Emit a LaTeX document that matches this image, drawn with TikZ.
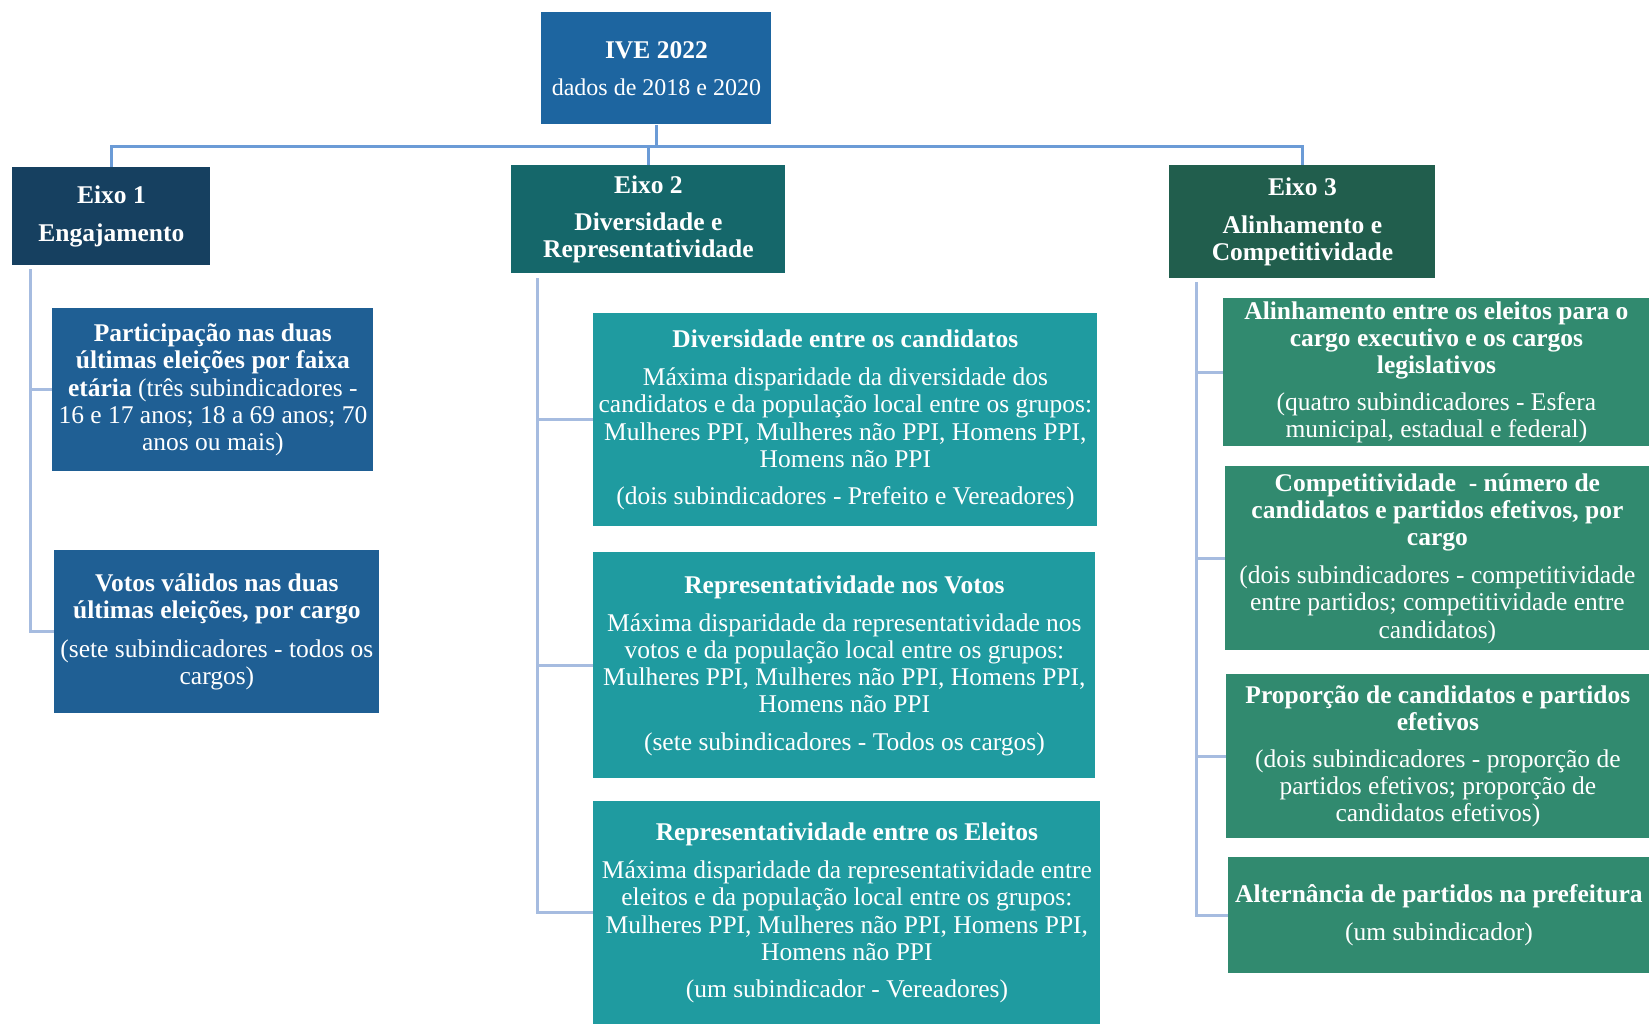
\documentclass[tikz,border=0pt]{standalone}
\usepackage{fontspec}
\setmainfont{Liberation Serif}
\definecolor{cIVE}{RGB}{29,101,160}
\definecolor{cE1}{RGB}{22,64,96}
\definecolor{cE2}{RGB}{21,103,106}
\definecolor{cE3}{RGB}{33,94,77}
\definecolor{cP}{RGB}{31,95,148}
\definecolor{cD}{RGB}{31,155,160}
\definecolor{cA}{RGB}{49,138,111}
\definecolor{cBus}{RGB}{107,155,214}
\definecolor{cBr}{RGB}{166,188,224}
\newcommand{\mainfs}{\fontsize{12.75}{13.6}\selectfont}
\tikzset{
  box/.style={anchor=north west, inner sep=0pt, align=center, text=white, font=\mainfs},
  bus/.style={draw=cBus, line width=1.5pt},
  branch/.style={draw=cBr, line width=1.5pt},
}
\begin{document}
\begin{tikzpicture}[x=0.5pt,y=-0.5pt]
\useasboundingbox[fill=white] (0,0) rectangle (1649,1024);

% top
\node[box, fill=cIVE, minimum width=115pt, minimum height=56pt] (ive) at (541,12)
  {\textbf{IVE 2022}\\[5pt]{\fontsize{12}{13}\selectfont dados de 2018 e 2020}};

% axes
\node[box, fill=cE1, minimum width=99pt, minimum height=49pt] (e1) at (12,167)
  {\textbf{Eixo 1}\\[5pt]\textbf{Engajamento}};
\node[box, fill=cE2, minimum width=137pt, minimum height=54pt] (e2) at (511,165)
  {\textbf{Eixo 2}\\[5pt]\textbf{Diversidade e}\\\textbf{Representatividade}};
\node[box, fill=cE3, minimum width=133pt, minimum height=56.5pt] (e3) at (1169,165)
  {\textbf{Eixo 3}\\[5pt]\textbf{Alinhamento e}\\\textbf{Competitividade}};

% Eixo 1 children
\node[box, fill=cP, minimum width=160.5pt, minimum height=81.5pt] (p1) at (52,308)
  {\textbf{Participação nas duas}\\\textbf{últimas eleições por faixa}\\\textbf{etária} (três subindicadores -\\16 e 17 anos; 18 a 69 anos; 70\\anos ou mais)};
\node[box, fill=cP, minimum width=162.5pt, minimum height=81.5pt] (p2) at (54,550)
  {\textbf{Votos válidos nas duas}\\\textbf{últimas eleições, por cargo}\\[6pt](sete subindicadores - todos os\\cargos)};

% Eixo 2 children
\node[box, fill=cD, minimum width=252pt, minimum height=106.5pt] (d1) at (593,313)
  {\textbf{Diversidade entre os candidatos}\\[5.5pt]Máxima disparidade da diversidade dos\\candidatos e da população local entre os grupos:\\Mulheres PPI, Mulheres não PPI, Homens PPI,\\Homens não PPI\\[5pt](dois subindicadores - Prefeito e Vereadores)};
\node[box, fill=cD, minimum width=251pt, minimum height=113pt] (d2) at (593,552)
  {\textbf{Representatividade nos Votos}\\[5.5pt]Máxima disparidade da representatividade nos\\votos e da população local entre os grupos:\\Mulheres PPI, Mulheres não PPI, Homens PPI,\\Homens não PPI\\[5pt](sete subindicadores - Todos os cargos)};
\node[box, fill=cD, minimum width=253.5pt, minimum height=111.5pt] (d3) at (593,801)
  {\textbf{Representatividade entre os Eleitos}\\[5.5pt]Máxima disparidade da representatividade entre\\eleitos e da população local entre os grupos:\\Mulheres PPI, Mulheres não PPI, Homens PPI,\\Homens não PPI\\[5pt](um subindicador - Vereadores)};

% Eixo 3 children
\node[box, fill=cA, minimum width=213pt, minimum height=74pt] (a1) at (1223,298)
  {\textbf{Alinhamento entre os eleitos para o}\\\textbf{cargo executivo e os cargos}\\\textbf{legislativos}\\[5pt](quatro subindicadores - Esfera\\municipal, estadual e federal)};
\node[box, fill=cA, minimum width=212pt, minimum height=92pt] (a2) at (1225,466)
  {\textbf{Competitividade \ - número de}\\\textbf{candidatos e partidos efetivos, por}\\\textbf{cargo}\\[5.5pt](dois subindicadores - competitividade\\entre partidos; competitividade entre\\candidatos)};
\node[box, fill=cA, minimum width=211.5pt, minimum height=82pt] (a3) at (1226,674)
  {\textbf{Proporção de candidatos e partidos}\\\textbf{efetivos}\\[5pt](dois subindicadores - proporção de\\partidos efetivos; proporção de\\candidatos efetivos)};
\node[box, fill=cA, minimum width=210.5pt, minimum height=58pt] (a4) at (1228,857)
  {\textbf{Alternância de partidos na prefeitura}\\[5.5pt](um subindicador)};

% top connectors
\coordinate (busy) at (0,146);
\draw[bus] (ive.south) -- (ive.south |- busy);
\draw[bus] (e1.north) -- (e1.north |- busy) -| (e3.north);
\draw[bus] (e2.north) -- (e2.north |- busy);

% branch connectors
\coordinate (t1) at (30.5,269);
\coordinate (t2) at (537,278);
\coordinate (t3) at (1196,282);
\draw[branch] (t1) |- (p1.west);
\draw[branch] (t1) |- (p2.west);
\draw[branch] (t2) |- (d1.west);
\draw[branch] (t2) |- (d2.west);
\draw[branch] (t2) |- (d3.west);
\draw[branch] (t3) |- (a1.west);
\draw[branch] (t3) |- (a2.west);
\draw[branch] (t3) |- (a3.west);
\draw[branch] (t3) |- (a4.west);
\end{tikzpicture}
\end{document}
